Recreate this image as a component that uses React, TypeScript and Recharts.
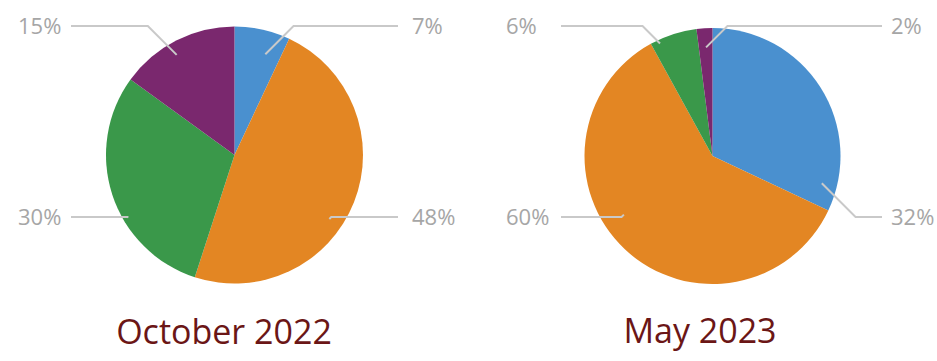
import { Cell, Pie, PieChart } from 'recharts';

const CATEGORIES = ['Category A', 'Category B', 'Category C', 'Category D'];
const OCTOBER_2022 = [7, 48, 30, 15];
const MAY_2023 = [32, 60, 6, 2];
const PIE_TITLES = ['October 2022', 'May 2023'];

const COLORS = ['#4a90cf', '#e38623', '#3a984a', '#7a286e'];
const FONT = '"Open Sans", "DejaVu Sans", sans-serif';

// where each slice's leader line starts (degrees, share of radius) and which corner its label sits in
interface LabelSpot {
  side: 'left' | 'right';
  row: 'top' | 'bottom';
  angle: number;
  depth: number;
}

interface Columns {
  textLeft: number;
  lineLeft: number;
  textRight: number;
  lineRight: number;
}

const TOP_ROW = 26;
const BOTTOM_ROW = 217;

const OCT_SPOTS: LabelSpot[] = [
  { side: 'right', row: 'top', angle: 73, depth: 0.82 },
  { side: 'right', row: 'bottom', angle: -34, depth: 0.89 },
  { side: 'left', row: 'bottom', angle: 210.5, depth: 0.96 },
  { side: 'left', row: 'top', angle: 120, depth: 0.9 },
];

const MAY_SPOTS: LabelSpot[] = [
  { side: 'right', row: 'bottom', angle: -14, depth: 0.88 },
  { side: 'left', row: 'bottom', angle: 213.5, depth: 0.83 },
  { side: 'left', row: 'top', angle: 115, depth: 0.97 },
  { side: 'right', row: 'top', angle: 93.4, depth: 0.85 },
];

const OCT_COLUMNS: Columns = { textLeft: 18, lineLeft: 71, textRight: 412, lineRight: 398 };
const MAY_COLUMNS: Columns = { textLeft: 506, lineLeft: 561, textRight: 891, lineRight: 882 };

function toRows(values: number[]) {
  return values.map((value, i) => ({ name: CATEGORIES[i], value }));
}

function makeLabel(spots: LabelSpot[], columns: Columns) {
  return (props: any) => {
    const { cx, cy, outerRadius, index, value } = props;
    const spot = spots[index];
    if (!spot) return null;
    const rad = (spot.angle * Math.PI) / 180;
    const ax = cx + spot.depth * outerRadius * Math.cos(rad);
    const ay = cy - spot.depth * outerRadius * Math.sin(rad);
    const rowY = spot.row === 'top' ? TOP_ROW : BOTTOM_ROW;
    const dir = spot.side === 'right' ? 1 : -1;
    const elbowX = ax + dir * Math.abs(ay - rowY);
    const lineEnd = dir > 0 ? columns.lineRight : columns.lineLeft;
    const textX = dir > 0 ? columns.textRight : columns.textLeft;
    return (
      <g key={`lbl-${index}`}>
        <polyline
          points={`${ax},${ay} ${elbowX},${rowY} ${lineEnd},${rowY}`}
          fill="none"
          stroke="#c9c9c9"
          strokeWidth={2}
        />
        <text
          x={textX}
          y={rowY - 1}
          dominantBaseline="central"
          textAnchor="start"
          fontFamily={FONT}
          fontSize={22}
          fill="#a6a6a6"
        >
          {`${value}%`}
        </text>
      </g>
    );
  };
}

export default function App() {
  const octData = toRows(OCTOBER_2022);
  const mayData = toRows(MAY_2023);

  return (
    <div style={{ position: 'absolute', left: 0, top: 0, width: 937, height: 361, background: '#fff' }}>
      <PieChart width={937} height={361} margin={{ top: 0, right: 0, bottom: 0, left: 0 }}>
        <Pie
          data={octData}
          dataKey="value"
          nameKey="name"
          cx={234.5}
          cy={155}
          outerRadius={128.5}
          startAngle={90}
          endAngle={-270}
          stroke="none"
          isAnimationActive={false}
          labelLine={false}
          label={makeLabel(OCT_SPOTS, OCT_COLUMNS)}
        >
          {octData.map((d, i) => (
            <Cell key={d.name} fill={COLORS[i]} />
          ))}
        </Pie>
        <Pie
          data={mayData}
          dataKey="value"
          nameKey="name"
          cx={712.5}
          cy={156}
          outerRadius={128}
          startAngle={90}
          endAngle={-270}
          stroke="none"
          isAnimationActive={false}
          labelLine={false}
          label={makeLabel(MAY_SPOTS, MAY_COLUMNS)}
        >
          {mayData.map((d, i) => (
            <Cell key={d.name} fill={COLORS[i]} />
          ))}
        </Pie>
        <text x={224} y={344} textAnchor="middle" fontFamily={FONT} fontSize={34} fill="#6b1616">
          {PIE_TITLES[0]}
        </text>
        <text x={700} y={343} textAnchor="middle" fontFamily={FONT} fontSize={34} fill="#6b1616">
          {PIE_TITLES[1]}
        </text>
      </PieChart>
    </div>
  );
}
